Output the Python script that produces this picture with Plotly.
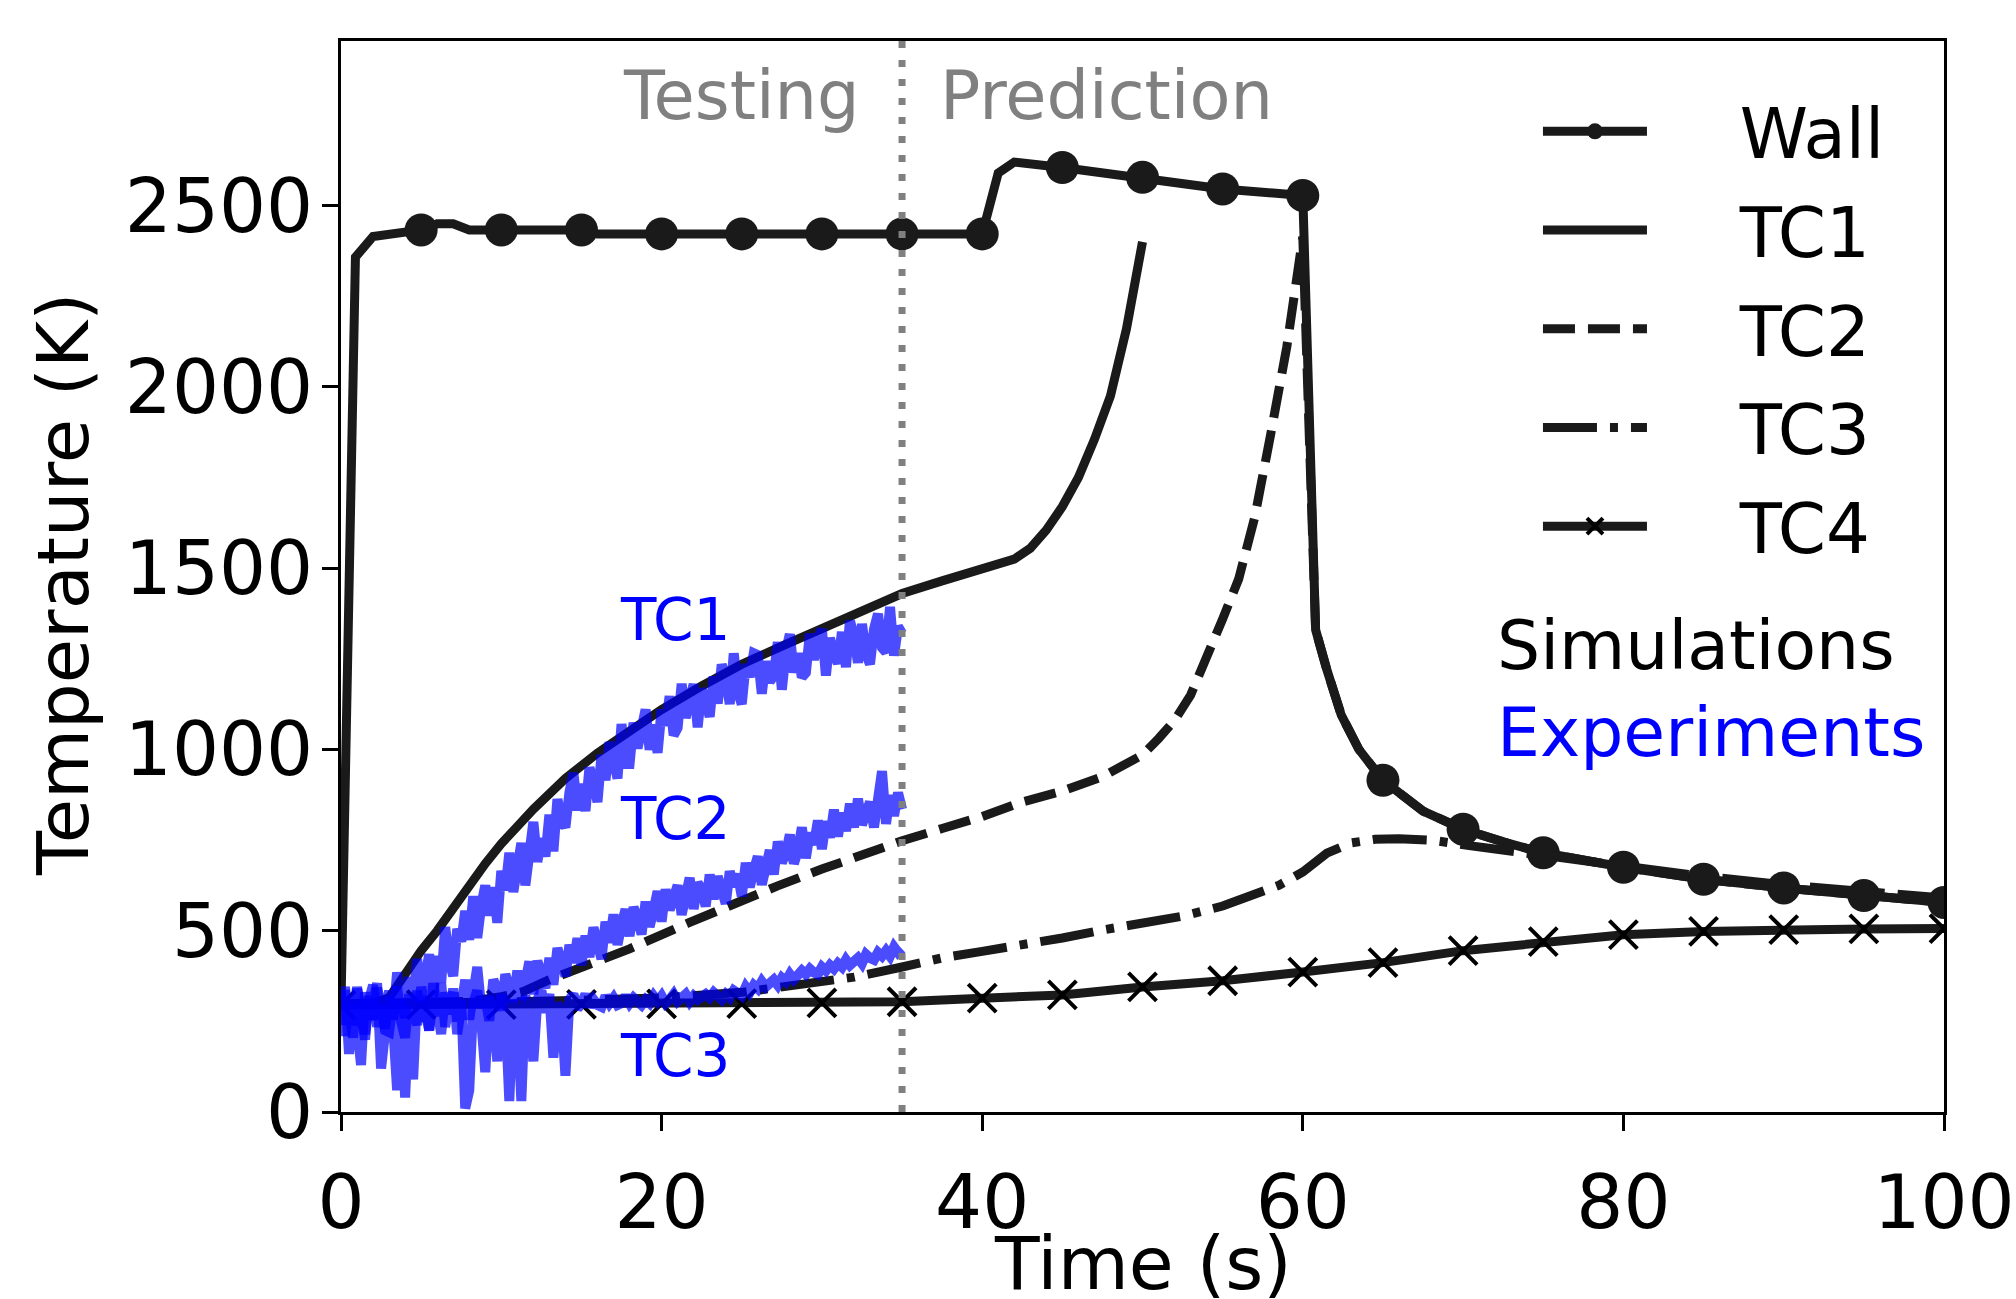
import plotly.graph_objects as go

# ---------------- data ----------------
# Simulations
wall_t = [0, 0.9, 2, 5, 6, 7, 8, 10, 15, 16, 20, 25, 30, 35, 40, 41, 42, 45, 50, 55, 60,
          60.8, 61.5, 62.4, 63.5, 65, 67.5, 70, 72.5, 75, 80, 85, 90, 95, 100]
wall_T = [300, 2358, 2415, 2433, 2450, 2450, 2433, 2433, 2433, 2422, 2422, 2422, 2422, 2422, 2422,
          2590, 2620, 2605, 2578, 2546, 2528, 1330, 1220, 1095, 1000, 915, 830, 780, 745, 715,
          675, 642, 618, 597, 578]

tc1_t = [0, 1, 2, 3, 4, 5, 6, 7, 8, 9, 10, 12, 14, 16, 18, 20, 22.5, 25, 27.5, 30, 32.5, 35,
         37.5, 40, 42, 43, 44, 45, 46, 47, 48, 49, 50]
tc1_T = [298, 298, 300, 315, 385, 445, 500, 565, 625, 685, 740, 835, 920, 990, 1050, 1110, 1175,
         1235, 1285, 1332, 1385, 1430, 1465, 1495, 1525, 1555, 1605, 1670, 1750, 1855, 1975, 2160, 2400]

tc2_t = [0, 5, 8, 10, 11.3, 13, 16, 18, 21.6, 24, 27.2, 30, 32.7, 35, 37.5, 40, 42.5, 45, 47.5,
         50, 51, 52, 53, 54, 55, 56, 57, 58, 59, 60, 60.8, 61.5, 62.4, 63.5, 65, 67.5, 70, 72.5,
         75, 80, 85, 90, 95, 100]
tc2_T = [298, 300, 305, 318, 331, 365, 416, 450, 520, 565, 623, 670, 714, 748, 782, 815, 855, 885,
         925, 985, 1030, 1080, 1150, 1250, 1360, 1470, 1640, 1870, 2110, 2414, 1330, 1220, 1095,
         1000, 915, 830, 780, 745, 715, 675, 642, 618, 597, 578]

tc3_t = [0, 5, 10, 15, 20, 25, 30, 32, 35, 37.5, 40, 42.5, 45, 47.5, 50, 52.5, 55, 57, 58.5, 60,
         61.5, 63, 64.5, 66, 68, 70.5, 75, 80, 85, 90, 95, 100]
tc3_T = [298, 298, 303, 308, 315, 330, 358, 372, 400, 425, 443, 460, 480, 502, 520, 540, 568, 598,
         625, 662, 714, 742, 752, 754, 750, 734, 706, 678, 650, 627, 606, 590]

tc4_t = [0, 5, 10, 15, 20, 25, 30, 35, 40, 45, 50, 55, 60, 65, 70, 75, 80, 85, 90, 95, 100]
tc4_T = [295, 296, 296, 297, 298, 299, 301, 304, 314, 323, 345, 362, 386, 412, 445, 470, 489,
         498, 503, 505, 506]

# Experiments (sampled every 0.25 s, 0 .. 35 s)
exp_t = [i * 0.25 for i in range(141)]
exp_tc1 = [330, 210, 300, 240, 345, 265, 200, 320, 255, 342, 300, 230, 335, 255, 385, 305,
           260, 372, 310, 422, 305, 372, 435, 317, 430, 357, 510, 417, 375, 505, 470, 555,
           475, 595, 480, 570, 625, 542, 620, 522, 665, 612, 715, 607, 660, 742, 625, 737,
           800, 690, 755, 705, 820, 719, 863, 806, 785, 882, 935, 832, 905, 830, 950, 910,
           855, 985, 915, 1020, 980, 920, 1070, 960, 960, 1074, 1003, 1072, 1110, 999, 1068, 991,
           1110, 1066, 1147, 1039, 1060, 1181, 1087, 1139, 1180, 1061, 1167, 1134, 1090, 1201, 1127, 1234,
           1200, 1125, 1265, 1160, 1125, 1235, 1200, 1265, 1260, 1154, 1243, 1188, 1202, 1296, 1165, 1269,
           1318, 1212, 1265, 1199, 1212, 1319, 1247, 1305, 1332, 1204, 1307, 1265, 1237, 1324, 1227, 1355,
           1312, 1239, 1346, 1263, 1235, 1332, 1374, 1281, 1268, 1393, 1259, 1339, 1320]
exp_tc2 = [240, 335, 285, 205, 340, 260, 215, 310, 350, 235, 295, 225, 220, 305, 345, 250,
           205, 325, 280, 240, 345, 290, 225, 315, 265, 355, 235, 300, 330, 215, 290, 365,
           255, 342, 400, 287, 315, 252, 365, 337, 280, 380, 325, 305, 390, 310, 360, 415,
           325, 417, 380, 342, 425, 351, 452, 399, 375, 461, 412, 479, 405, 486, 427, 509,
           450, 422, 525, 467, 545, 461, 517, 559, 485, 565, 535, 490, 580, 511, 557, 609,
           525, 614, 557, 601, 625, 544, 607, 646, 560, 632, 615, 567, 655, 587, 650, 607,
           575, 664, 622, 656, 595, 687, 620, 667, 705, 627, 685, 722, 655, 746, 687, 714,
           765, 685, 720, 785, 700, 771, 737, 804, 725, 801, 757, 834, 760, 825, 775, 850,
           785, 864, 792, 826, 855, 785, 880, 940, 795, 874, 817, 881, 835]
exp_tc3 = [280, 345, 160, 305, 235, 130, 330, 255, 300, 355, 120, 265, 320, 240, 60, 310,
           40, 290, 90, 335, 250, 320, 225, 355, 280, 215, 330, 270, 340, 250, 310, 10,
           60, 300, 335, 250, 110, 320, 270, 140, 325, 280, 30, 310, 270, 30, 320, 280,
           140, 310, 335, 275, 325, 150, 300, 280, 100, 310, 325, 285, 300, 325, 290, 310,
           295, 290, 320, 300, 315, 295, 300, 320, 300, 315, 305, 295, 310, 300, 320, 305,
           320, 300, 310, 325, 305, 315, 325, 305, 320, 310, 315, 325, 315, 330, 320, 310,
           325, 315, 335, 330, 320, 345, 330, 350, 340, 360, 345, 355, 365, 350, 370, 360,
           380, 365, 375, 390, 380, 395, 385, 380, 400, 390, 405, 395, 410, 400, 420, 405,
           415, 425, 410, 435, 425, 420, 440, 430, 445, 430, 455, 440, 450]

# ---------------- styling ----------------
FONT = "DejaVu Sans"
SIM = "#1a1a1a"
EXP = "rgba(0,0,255,0.7)"
LW = 9

fig = go.Figure()

NB = "\u00a0\u00a0\u00a0\u00a0"
wall_sizes = [33 if (t > 0 and t % 5 == 0) else 0 for t in wall_t]
fig.add_trace(go.Scatter(x=wall_t, y=wall_T, mode="lines+markers", name=NB + "Wall", legendgroup="a",
                         line=dict(color=SIM, width=LW),
                         marker=dict(symbol="circle", size=wall_sizes, color=SIM, opacity=1,
                                     line=dict(width=0))))
fig.add_trace(go.Scatter(x=tc1_t, y=tc1_T, mode="lines", name=NB + "TC1", legendgroup="b",
                         line=dict(color=SIM, width=LW)))
fig.add_trace(go.Scatter(x=tc2_t, y=tc2_T, mode="lines", name=NB + "TC2", legendgroup="c",
                         line=dict(color=SIM, width=LW, dash="32px,13px")))
fig.add_trace(go.Scatter(x=tc3_t, y=tc3_T, mode="lines", name=NB + "TC3", legendgroup="d",
                         line=dict(color=SIM, width=LW, dash="54px,13px,8px,13px")))
fig.add_trace(go.Scatter(x=tc4_t, y=tc4_T, mode="lines+markers", name=NB + "TC4", legendgroup="e",
                         line=dict(color=SIM, width=LW),
                         marker=dict(symbol="x-thin", size=28, color="black", opacity=1,
                                     line=dict(color="black", width=4))))

for ys in (exp_tc1, exp_tc2, exp_tc3):
    fig.add_trace(go.Scatter(x=exp_t, y=ys, mode="lines", showlegend=False,
                             line=dict(color=EXP, width=10)))

# dividing line between testing and prediction
fig.add_shape(type="line", x0=35, x1=35, y0=0, y1=1, xref="x", yref="paper", layer="above",
              line=dict(color="#808080", width=7, dash="7px,12px"))

ann = []
ann.append(dict(x=32.5, y=2803, xref="x", yref="y", text="Testing", showarrow=False,
                xanchor="right", yanchor="middle", font=dict(family=FONT, size=67, color="#808080")))
ann.append(dict(x=37.25, y=2803, xref="x", yref="y", text="Prediction", showarrow=False,
                xanchor="left", yanchor="middle", font=dict(family=FONT, size=67, color="#808080")))
for txt, yv in (("TC1", 1357), ("TC2", 808), ("TC3", 154)):
    ann.append(dict(x=17.3, y=yv, xref="x", yref="y", text=txt, showarrow=False,
                    xanchor="left", yanchor="middle", font=dict(family=FONT, size=58, color="blue")))
ann.append(dict(x=0.72, y=0.436, xref="paper", yref="paper", text="Simulations", showarrow=False,
                xanchor="left", yanchor="middle", font=dict(family=FONT, size=68, color="black")))
ann.append(dict(x=0.72, y=0.3548, xref="paper", yref="paper", text="Experiments", showarrow=False,
                xanchor="left", yanchor="middle", font=dict(family=FONT, size=68, color="blue")))
# axis titles
ann.append(dict(x=0.5, y=-0.1415, xref="paper", yref="paper", text="Time (s)", showarrow=False,
                xanchor="center", yanchor="middle", font=dict(family=FONT, size=73, color="black")))
ann.append(dict(x=-0.1734, y=0.492, xref="paper", yref="paper", text="Temperature (K)",
                showarrow=False, textangle=-90, xanchor="center", yanchor="middle",
                font=dict(family=FONT, size=72, color="black")))

axis_common = dict(showgrid=False, zeroline=False, showline=True, linecolor="black", linewidth=3,
                   mirror=True, ticks="outside", ticklen=16, tickwidth=3, tickcolor="black",
                   automargin=False, tickfont=dict(family=FONT, size=74, color="black"))

fig.update_layout(
    width=2016, height=1299,
    margin=dict(l=341, r=72, t=41, b=187, pad=0),
    paper_bgcolor="white", plot_bgcolor="white",
    font=dict(family=FONT, color="black"),
    xaxis=dict(range=[0, 100], tickvals=[0, 20, 40, 60, 80, 100], ticklabelstandoff=8,
               **axis_common),
    yaxis=dict(range=[0, 2954], tickvals=[0, 500, 1000, 1500, 2000, 2500],
               ticklabelstandoff=-6, **axis_common),
    legend=dict(x=0.7467, y=0.9636, xanchor="left", yanchor="top", bgcolor="rgba(0,0,0,0)",
                font=dict(family=FONT, size=69, color="black"), itemwidth=104,
                tracegroupgap=6, traceorder="grouped"),
    annotations=ann,
)

fig.write_html("out.html")
